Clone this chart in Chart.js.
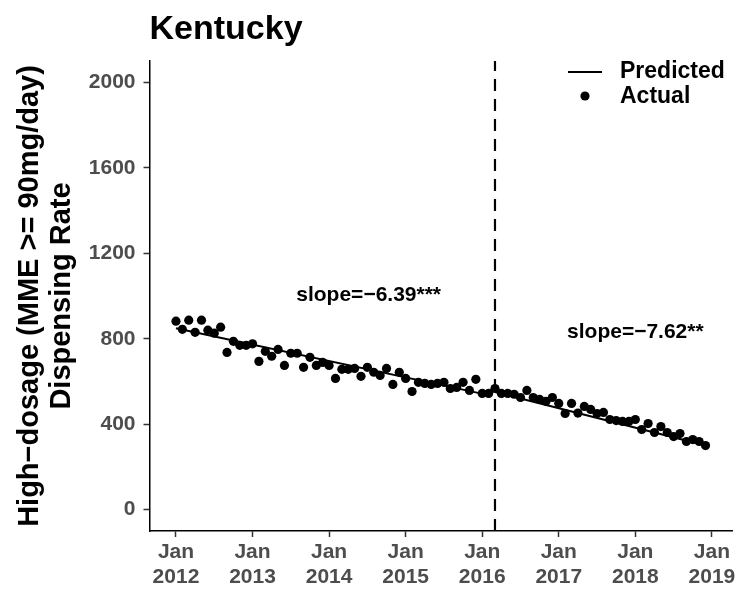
<!DOCTYPE html>
<html>
<head>
<meta charset="utf-8">
<script src="https://cdn.jsdelivr.net/npm/chart.js@4.4.0/dist/chart.umd.min.js"></script>
<style>
  html, body { margin: 0; padding: 0; background: #fff; }
</style>
</head>
<body>
<canvas id="myChart" width="751" height="589"></canvas>
<script>
const FONT = '"Liberation Sans", Arial, Helvetica, sans-serif';

// Monthly actual values, one array per year (Jan..Dec)
const actual2012 = [882, 844, 887, 830, 887, 840, 826, 854, 736, 788, 769, 769];
const actual2013 = [776, 694, 741, 718, 750, 675, 732, 732, 666, 713, 675, 689];
const actual2014 = [675, 614, 657, 657, 661, 624, 666, 643, 628, 661, 586, 643];
const actual2015 = [614, 553, 596, 591, 586, 591, 596, 567, 572, 596, 558, 610];
const actual2016 = [544, 544, 567, 544, 544, 540, 525, 558, 525, 516, 507, 525];
const actual2017 = [497, 450, 497, 452, 483, 469, 450, 455, 422, 417, 413, 413];
const actual2018 = [422, 375, 403, 361, 389, 361, 342, 356, 319, 328, 319, 300];
const actualYears = [actual2012, actual2013, actual2014, actual2015, actual2016, actual2017, actual2018];

// Predicted segments (month index, 0 = Jan 2012)
const predBeforeMonths = [0, 49];
const predBeforeValues = [849, 536];
const predAfterMonths = [50, 83];
const predAfterValues = [551, 300];

// Policy cut-off (Mar 2016)
const cutoffMonth = 50;

// Tick labels
const xTicks = [0, 12, 24, 36, 48, 60, 72, 84];
const xTickYears = ['2012', '2013', '2014', '2015', '2016', '2017', '2018', '2019'];
const yTicks = [0, 400, 800, 1200, 1600, 2000];

// Slope annotations
const slopeLabels = ['slope=\u22126.39***', 'slope=\u22127.62**'];
const slopeX = [30.2, 72.0];
const slopeY = [1005, 830];

const actualPoints = [];
actualYears.forEach((vals, yi) => {
  vals.forEach((v, mi) => actualPoints.push({ x: yi * 12 + mi, y: v }));
});

const overlay = {
  id: 'overlay',
  afterDraw(chart) {
    const { ctx, scales: { x, y } } = chart;
    ctx.save();
    // slope texts
    ctx.fillStyle = '#000';
    ctx.font = 'bold 21px ' + FONT;
    ctx.textAlign = 'center';
    ctx.textBaseline = 'middle';
    slopeLabels.forEach((t, i) => {
      ctx.fillText(t, x.getPixelForValue(slopeX[i]), y.getPixelForValue(slopeY[i]));
    });
    // legend
    ctx.strokeStyle = '#000';
    ctx.lineWidth = 2;
    ctx.beginPath();
    ctx.moveTo(568, 72);
    ctx.lineTo(602, 72);
    ctx.stroke();
    ctx.beginPath();
    ctx.arc(585, 96, 4.6, 0, Math.PI * 2);
    ctx.fill();
    ctx.font = 'bold 23px ' + FONT;
    ctx.textAlign = 'left';
    ctx.fillText('Predicted', 620, 72);
    ctx.fillText('Actual', 620, 97);
    ctx.restore();
  }
};

new Chart(document.getElementById('myChart').getContext('2d'), {
  type: 'scatter',
  data: {
    datasets: [
      {
        label: 'Actual',
        data: actualPoints,
        pointRadius: 4.6,
        pointHoverRadius: 4.6,
        backgroundColor: '#000',
        borderWidth: 0
      },
      {
        type: 'line',
        label: 'Predicted',
        data: predBeforeMonths.map((m, i) => ({ x: m, y: predBeforeValues[i] })),
        borderColor: '#000',
        borderWidth: 2,
        pointRadius: 0
      },
      {
        type: 'line',
        label: 'Predicted after',
        data: predAfterMonths.map((m, i) => ({ x: m, y: predAfterValues[i] })),
        borderColor: '#000',
        borderWidth: 2,
        pointRadius: 0
      },
      {
        type: 'line',
        label: 'cutoff',
        data: [{ x: cutoffMonth, y: -100 }, { x: cutoffMonth, y: 2100 }],
        borderColor: '#000',
        borderWidth: 2.2,
        borderDash: [12, 8],
        pointRadius: 0
      }
    ]
  },
  options: {
    responsive: false,
    animation: false,
    layout: { padding: { top: 0, right: 19, bottom: 0, left: 0 } },
    scales: {
      x: {
        type: 'linear',
        min: -4.15,
        max: 87.15,
        afterBuildTicks: s => { s.ticks = xTicks.map(v => ({ value: v })); },
        afterFit: s => { s.height = 58; },
        grid: { display: true, drawOnChartArea: false, drawTicks: true, tickLength: 6, tickColor: '#333', tickWidth: 1.5 },
        border: { display: true, color: '#000', width: 1.5 },
        ticks: {
          color: '#4D4D4D',
          font: { family: FONT, size: 21, weight: 'bold', lineHeight: 1.22 },
          padding: 2,
          maxRotation: 0,
          autoSkip: false,
          callback: v => ['Jan', xTickYears[xTicks.indexOf(v)]]
        }
      },
      y: {
        type: 'linear',
        min: -100,
        max: 2100,
        afterBuildTicks: s => { s.ticks = yTicks.map(v => ({ value: v })); },
        afterFit: s => { s.width = 149.5; },
        grid: { display: true, drawOnChartArea: false, drawTicks: true, tickLength: 6, tickColor: '#333', tickWidth: 1.5 },
        border: { display: true, color: '#000', width: 1.5 },
        ticks: {
          color: '#4D4D4D',
          font: { family: FONT, size: 21, weight: 'bold' },
          padding: 8,
          callback: v => String(v)
        },
        title: {
          display: true,
          text: ['High\u2212dosage (MME >= 90mg/day)', 'Dispensing Rate'],
          color: '#000',
          font: { family: FONT, size: 29, weight: 'bold', lineHeight: 1.1 },
          padding: { top: 14, bottom: 0 }
        }
      }
    },
    plugins: {
      legend: { display: false },
      tooltip: { enabled: false },
      title: {
        display: true,
        text: 'Kentucky',
        align: 'start',
        fullSize: false,
        color: '#000',
        font: { family: FONT, size: 34, weight: 'bold', lineHeight: 1.2 },
        padding: { top: 9, bottom: 11.2 }
      }
    }
  },
  plugins: [overlay]
});
</script>
</body>
</html>
